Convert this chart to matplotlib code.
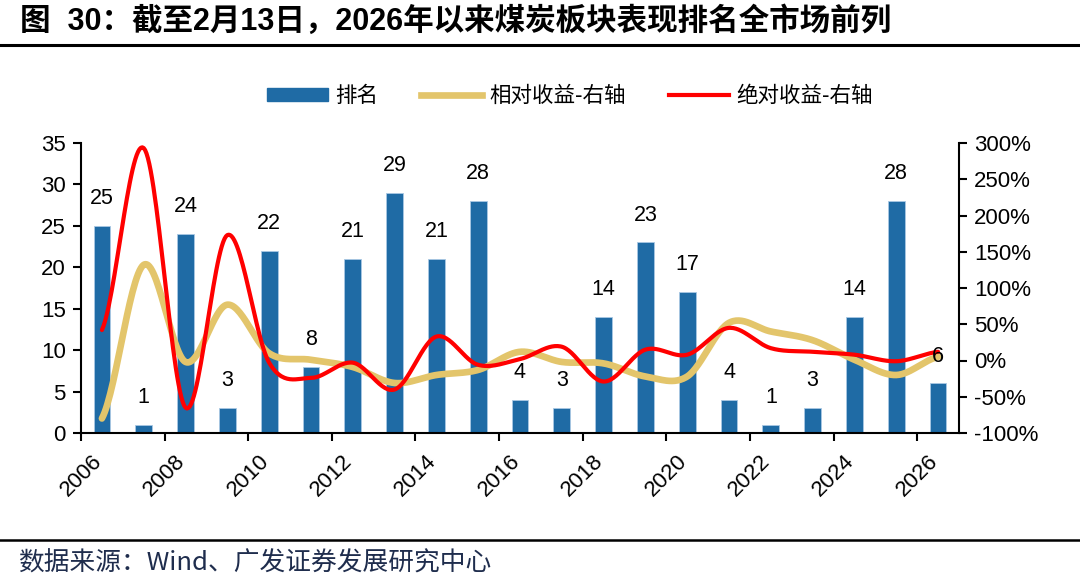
import numpy as np
import matplotlib
matplotlib.use("Agg")
import matplotlib.pyplot as plt
from matplotlib.lines import Line2D
from matplotlib.patches import Patch
from matplotlib.ticker import FuncFormatter, MultipleLocator

plt.rcParams['font.family'] = ['Liberation Sans', 'Noto Sans CJK SC', 'DejaVu Sans']

years = list(range(2006, 2027))
rank = [25, 1, 24, 3, 22, 8, 21, 29, 21, 28, 4, 3, 14, 23, 17, 4, 1, 3, 14, 28, 6]
rel_ret = [-80, 132, -2, 77, 10, 1, -9, -31, -20, -13, 12, -2, -4, -22, -22, 52, 40, 28, 1, -20, 5]
abs_ret = [42, 293, -65, 173, -3, -24, -3, -40, 33, -6, 2, 19, -29, 15, 8, 45, 17, 12, 8, -1, 12]
xtick_labels = [str(y) for y in range(2006, 2027, 2)]

BLUE = '#1F6BA5'
TAN = '#E3C56B'
RED = '#FF0000'


def smooth(x, y, n=30):
    """Uniform Catmull-Rom spline through points (Excel-like smoothed line)."""
    x = np.asarray(x, float)
    y = np.asarray(y, float)
    px = np.concatenate([[2 * x[0] - x[1]], x, [2 * x[-1] - x[-2]]])
    py = np.concatenate([[y[0]], y, [y[-1]]])
    xs, ys = [], []
    t = np.linspace(0, 1, n, endpoint=False)
    for i in range(1, len(px) - 2):
        def cr(a0, a1, a2, a3):
            return 0.5 * ((2 * a1) + (-a0 + a2) * t + (2 * a0 - 5 * a1 + 4 * a2 - a3) * t ** 2
                          + (-a0 + 3 * a1 - 3 * a2 + a3) * t ** 3)
        xs.append(cr(px[i - 1], px[i], px[i + 1], px[i + 2]))
        ys.append(cr(py[i - 1], py[i], py[i + 1], py[i + 2]))
    xs.append([x[-1]])
    ys.append([y[-1]])
    return np.concatenate(xs), np.concatenate(ys)


fig = plt.figure(figsize=(10.8, 5.86), dpi=100)
ax = fig.add_axes([81 / 1080, 1 - 433 / 586, (959 - 81) / 1080, (433 - 143) / 586])
ax2 = ax.twinx()

xpos = np.arange(len(years))
ax.bar(xpos, rank, width=0.4, color=BLUE, edgecolor='#A9C8E3', linewidth=0.6, zorder=2)

ax.set_xlim(-0.5, len(years) - 0.5)
ax.set_ylim(0, 35)
ax.yaxis.set_major_locator(MultipleLocator(5))
ax.set_xticks(np.arange(-0.5, len(years) - 0.5, 2))
ax.set_xticklabels(xtick_labels, rotation=45, ha='center', va='top', fontsize=16)
ax.tick_params(axis='x', length=6, width=1.5, pad=7)
ax.tick_params(axis='y', length=6, width=1.5, labelsize=16, pad=5)

sx, sy = smooth(xpos, rel_ret)
ax2.plot(sx, sy, color=TAN, lw=4.8, solid_capstyle='round', zorder=3)
sx, sy = smooth(xpos, abs_ret)
ax2.plot(sx, sy, color=RED, lw=3, solid_capstyle='round', zorder=4)
ax2.set_ylim(-100, 300)
ax2.yaxis.set_major_locator(MultipleLocator(50))
ax2.yaxis.set_major_formatter(FuncFormatter(lambda v, p: f"{v:.0f}%"))
ax2.tick_params(axis='y', length=6, width=1.5, labelsize=16, pad=5)

for xi, v in zip(xpos, rank):
    ax2.annotate(str(v), xy=(xi, v), xycoords=ax.transData, xytext=(0, 12),
                 textcoords='offset points', ha='center', va='bottom',
                 fontsize=15.5, color='black', zorder=6)

for a in (ax, ax2):
    a.spines['top'].set_visible(False)
    for s in ('left', 'right', 'bottom'):
        a.spines[s].set_linewidth(1.5)
        a.spines[s].set_color('black')
ax.spines['right'].set_visible(False)
ax2.spines['left'].set_visible(False)
ax2.spines['bottom'].set_visible(False)
ax2.patch.set_visible(False)

handles = [Patch(facecolor=BLUE, edgecolor=BLUE),
           Line2D([0], [0], color=TAN, lw=4.8),
           Line2D([0], [0], color=RED, lw=3)]
labels = ['排名', '相对收益-右轴', '绝对收益-右轴']
fig.legend(handles, labels, loc='center', bbox_to_anchor=(0.528, 1 - 96 / 586), ncol=3,
           frameon=False, handlelength=2.8, handleheight=0.55,
           handletextpad=0.35, columnspacing=2.0,
           prop={'family': ['Noto Sans CJK SC'], 'size': 15.5})

fig.text(20 / 1080, 1 - 22 / 586, '图  30：截至2月13日，2026年以来煤炭板块表现排名全市场前列',
         fontsize=22, fontweight='bold', ha='left', va='center',
         family=['Liberation Sans', 'Noto Sans CJK SC'])
fig.add_artist(Line2D([0, 1], [1 - 45 / 586, 1 - 45 / 586], color='black', lw=2.2,
                      transform=fig.transFigure))
fig.add_artist(Line2D([0, 1], [1 - 540 / 586, 1 - 540 / 586], color='black', lw=1.8,
                      transform=fig.transFigure))
fig.text(18 / 1080, 1 - 564 / 586, '数据来源：Wind、广发证券发展研究中心', fontsize=18.5,
         color='#1F2D4D', ha='left', va='center',
         family=['Noto Sans CJK SC', 'Liberation Sans'])

fig.savefig('out.png', dpi=100)
